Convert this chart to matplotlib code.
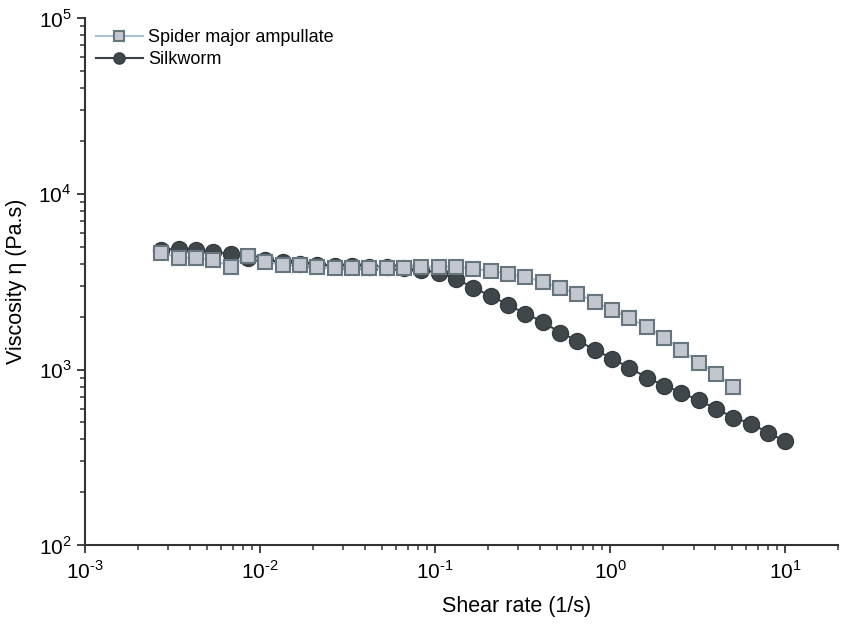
import numpy as np
import matplotlib
matplotlib.use("Agg")
import matplotlib.pyplot as plt
from matplotlib.ticker import LogLocator, FuncFormatter, NullFormatter

plt.rcParams['font.family'] = ['Liberation Sans', 'DejaVu Sans']
plt.rcParams['mathtext.fontset'] = 'custom'
plt.rcParams['mathtext.rm'] = 'Liberation Sans'

# shear rate (1/s), shared by both runs
shear = [0.00274, 0.00344, 0.00432, 0.00542, 0.00681, 0.00855, 0.01074, 0.01349,
         0.01694, 0.02128, 0.02673, 0.03357, 0.04217, 0.05297, 0.06653, 0.08356,
         0.1050, 0.1318, 0.1656, 0.2080, 0.2612, 0.3281, 0.4121, 0.5176, 0.6501,
         0.8166, 1.026, 1.288, 1.618, 2.032, 2.553, 3.206, 4.027, 5.058, 6.353,
         7.980, 10.02]

# viscosity (Pa.s)
spider = [4630, 4320, 4320, 4220, 3850, 4450, 4110, 3950, 3950, 3850, 3800, 3800,
          3800, 3800, 3800, 3846, 3846, 3846, 3750, 3650, 3510, 3370, 3160, 2920,
          2700, 2430, 2190, 1970, 1750, 1520, 1300, 1096, 949, 800]
silkworm = [4800, 4860, 4800, 4680, 4560, 4330, 4200, 4100, 4000, 3950, 3900, 3870,
            3850, 3850, 3800, 3700, 3560, 3290, 2920, 2630, 2340, 2080, 1874, 1622,
            1462, 1300, 1155, 1026, 901, 811, 740, 667, 600, 533, 493, 438, 390]


def pow10(v, pos):
    e = int(round(np.log10(v)))
    if e < 0:
        return r'$10^{\text{-}%d}$' % (-e)
    return r'$10^{%d}$' % e


fig = plt.figure(figsize=(8.48, 6.26), dpi=100)
ax = fig.add_axes([0.100, 0.129, 0.888, 0.842])

ax.plot(shear, silkworm, '-o', color='#3a4246', lw=1.5, ms=11.5,
        mfc='#3f474b', mec='#353c40', mew=1, label='Silkworm', zorder=2)
ax.plot(shear[:len(spider)], spider, '-s', color='#a9c3d6', lw=1.5, ms=10.5,
        mfc='#c3c7cf', mec='#66757e', mew=1.5, label='Spider major ampullate', zorder=3)

ax.set_xscale('log')
ax.set_yscale('log')
ax.set_xlim(1e-3, 20)
ax.set_ylim(1e2, 1e5)

for s in ['top', 'right']:
    ax.spines[s].set_visible(False)
for s in ['left', 'bottom']:
    ax.spines[s].set_linewidth(1.5)
    ax.spines[s].set_color('#333333')

for a in (ax.xaxis, ax.yaxis):
    a.set_major_locator(LogLocator(base=10))
    a.set_minor_locator(LogLocator(base=10, subs=np.arange(2, 10)))
    a.set_major_formatter(FuncFormatter(pow10))
    a.set_minor_formatter(NullFormatter())
ax.tick_params(which='major', direction='out', length=5.5, width=1.3, labelsize=15, color='#333333')
ax.tick_params(which='minor', direction='out', length=3.5, width=1.1, color='#333333')
ax.tick_params(axis='x', which='major', pad=5)
ax.tick_params(axis='y', which='major', pad=4)

ax.set_xlabel('Shear rate (1/s)', fontsize=15.5, va='top')
ax.xaxis.set_label_coords(0.574, -0.097)
ax.set_ylabel('Viscosity η (Pa.s)', fontsize=15.5)
ax.yaxis.set_label_coords(-0.077, 0.5)

h, l = ax.get_legend_handles_labels()
ax.legend(h[::-1], l[::-1], loc='upper left', bbox_to_anchor=(0.0, 1.0),
          frameon=False, fontsize=13, handlelength=2.6, handletextpad=0.3,
          borderaxespad=0.2, labelspacing=0.3, markerscale=0.7)

fig.savefig('out.png', dpi=100)
